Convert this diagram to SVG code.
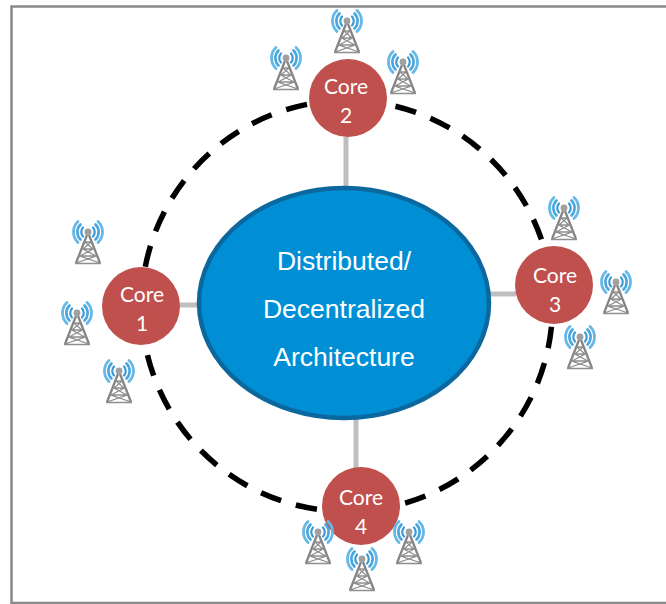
<svg xmlns="http://www.w3.org/2000/svg" xmlns:xlink="http://www.w3.org/1999/xlink" width="666" height="604" viewBox="0 0 666 604">
<style>
.frame{fill:none;stroke:#898989;stroke-width:2.5}
.ring{fill:none;stroke:#000;stroke-width:5.500;stroke-dasharray:21.500 15.390;stroke-dashoffset:-20.900}
.link{stroke:#bfbfbf;stroke-width:5;fill:none}
.core{fill:#c0504d}
.hub{fill:#008fd5;stroke:#0b689f;stroke-width:4.500}
.ct{font-family:Lato,"Open Sans",sans-serif;font-size:21px;fill:#fff;text-anchor:middle}
.ht{font-family:"Liberation Sans",Arial,sans-serif;font-size:26.500px;fill:#fff;text-anchor:middle}
.w1{fill:none;stroke:#3a9ad6;stroke-width:2.200;stroke-linecap:round}
.w2{fill:none;stroke:#4aa6dd;stroke-width:2.600;stroke-linecap:round}
.w3{fill:none;stroke:#66b8e6;stroke-width:2.800;stroke-linecap:round}
.t1{fill:none;stroke:#858585;stroke-width:2.300}
.t2{fill:none;stroke:#8f8f8f;stroke-width:1.300}
</style>
<defs>
<g id="tower">
<path class="w1" d="M-5-4.500A6.700 6.700 0 0 0-5 4.500M5-4.500A6.700 6.700 0 0 1 5 4.500"/>
<path class="w2" d="M-7.500-7.500A10.600 10.600 0 0 0-7.500 7.500M7.500-7.500A10.600 10.600 0 0 1 7.500 7.500"/>
<path class="w3" d="M-10-10.500A14.500 14.500 0 0 0-10 10.500M10-10.500A14.500 14.500 0 0 1 10 10.500"/>
<path class="t1" d="M-1 3-12 31M1 3 12 31"/>
<path class="t2" d="M-3 10H3M-5 17H5M-8 24H8M-3 10 5 17-8 24 12 31M3 10-5 17 8 24-12 31M-13 31.500H13"/>
<circle r="3.400" fill="#a0a0a0"/>
</g>
</defs>
<path class="frame" d="M666 6.500H11.500V603H666"/>
<g id="connectors">
<circle class="ring" cx="347" cy="306" r="205.500"/>
<path class="link" d="M346 137V190M180 305H200M490 294H516M356 418V468"/>
</g>
<g id="hub"><ellipse class="hub" cx="344" cy="303" rx="145" ry="115"/>
<text class="ht" x="344" y="270">Distributed/</text>
<text class="ht" x="344" y="318">Decentralized</text>
<text class="ht" x="344" y="366">Architecture</text></g>
<g id="core1"><circle class="core" cx="141" cy="306" r="39"/><text class="ct" x="142" y="302">Core</text><text class="ct" x="142" y="331">1</text></g>
<g id="core2"><circle class="core" cx="348" cy="98" r="39"/><text class="ct" x="346" y="94">Core</text><text class="ct" x="346" y="123">2</text></g>
<g id="core3"><circle class="core" cx="554" cy="285" r="39"/><text class="ct" x="555" y="283">Core</text><text class="ct" x="555" y="312">3</text></g>
<g id="core4"><circle class="core" cx="361" cy="506" r="39"/><text class="ct" x="361" y="505">Core</text><text class="ct" x="361" y="534">4</text></g>
<g id="towers">
<use xlink:href="#tower" href="#tower" x="347" y="21"/>
<use xlink:href="#tower" href="#tower" x="286" y="58"/>
<use xlink:href="#tower" href="#tower" x="403" y="62"/>
<use xlink:href="#tower" href="#tower" x="88" y="232"/>
<use xlink:href="#tower" href="#tower" x="77" y="313"/>
<use xlink:href="#tower" href="#tower" x="119" y="371"/>
<use xlink:href="#tower" href="#tower" x="564" y="208"/>
<use xlink:href="#tower" href="#tower" x="616" y="282"/>
<use xlink:href="#tower" href="#tower" x="580" y="337"/>
<use xlink:href="#tower" href="#tower" x="318" y="532"/>
<use xlink:href="#tower" href="#tower" x="409" y="532"/>
<use xlink:href="#tower" href="#tower" x="362" y="559"/>
</g>
</svg>
